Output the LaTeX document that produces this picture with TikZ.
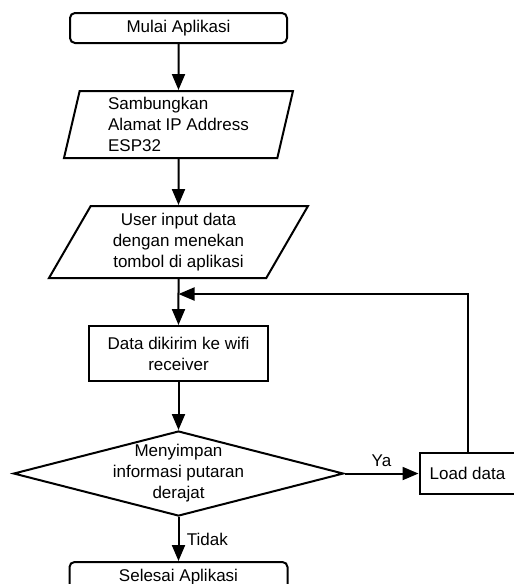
\documentclass[tikz,border=0pt]{standalone}
\usepackage{fontspec}
\setmainfont{Liberation Sans}
\usetikzlibrary{arrows.meta,positioning,shapes.geometric}
\tikzset{terminal/.style={rounded corners=5pt,draw,line width=2pt,minimum width=217pt,minimum height=30pt,inner sep=0pt},io/.style={trapezium,trapezium stretches body,draw,line width=2pt,inner xsep=4pt,inner ysep=2pt},process/.style={draw,line width=2pt,align=center,inner sep=2pt},decision/.style={diamond,draw,line width=2pt,inner sep=0pt,minimum width=330pt,minimum height=85pt},flow/.style={-{Triangle[length=16pt,width=13pt]},line width=2pt}}

\begin{document}
\begin{tikzpicture}[x=1pt,y=1pt,node distance=46pt,font=\fontsize{17}{21}\selectfont]
      \useasboundingbox (0,0) rectangle (514,-584);
      \node[terminal](start) at (178.5,-28){Mulai Aplikasi};
      \node[io,align=left,trapezium left angle=75,trapezium right angle=105,minimum width=229pt,minimum height=67pt,below=of start](connect){Sambungkan\\Alamat IP Address\\ESP32};
      \node[io,align=center,trapezium left angle=56,trapezium right angle=124,minimum width=259pt,minimum height=72pt,below=of connect](input){User input data\\dengan menekan\\tombol di aplikasi};
      \node[process,minimum width=179pt,minimum height=55pt,below=of input](send){Data dikirim ke wifi\\receiver};
      \node[decision,below=48pt of send,label={[align=center]center:Menyimpan\\informasi putaran\\derajat}](save){};
      \node[process,minimum width=96pt,minimum height=41pt,right=74pt of save](load){Load data};
      \node[terminal,minimum width=218pt,below=44pt of save](finish){Selesai Aplikasi};
      \coordinate[below=15pt of input](back);
      \draw[flow](start)--(connect);\draw[flow](connect)--(input);\draw[flow](input)--(send);
      \draw[flow](send)--(save);
      \draw[flow](save.east)--node[above,yshift=3pt]{Ya}(load);
      \draw[flow](save.south)--node[right,xshift=4pt]{Tidak}(finish);
      \draw[flow](load.north)|-(back);
    \end{tikzpicture}
\end{document}
